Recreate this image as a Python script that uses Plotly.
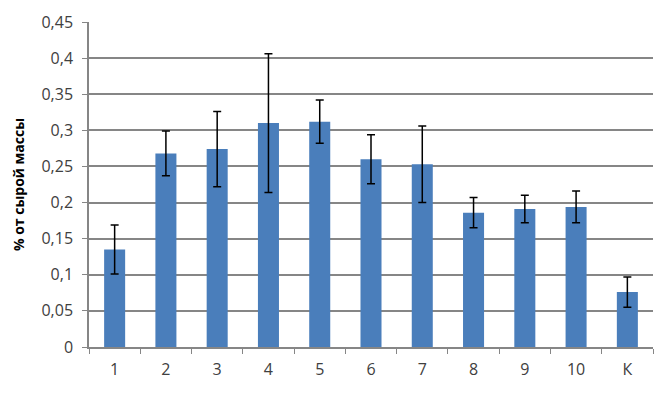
import plotly.graph_objects as go

categories = ["1", "2", "3", "4", "5", "6", "7", "8", "9", "10", "К"]
values = [0.135, 0.268, 0.274, 0.310, 0.312, 0.260, 0.253, 0.186, 0.191, 0.194, 0.076]
errors = [0.034, 0.031, 0.052, 0.096, 0.030, 0.034, 0.053, 0.021, 0.019, 0.022, 0.021]
y_tickvals = [0, 0.05, 0.1, 0.15, 0.2, 0.25, 0.3, 0.35, 0.4, 0.45]
y_ticktext = ["0", "0,05", "0,1", "0,15", "0,2", "0,25", "0,3", "0,35", "0,4", "0,45"]
y_title = "% от сырой массы"

fig = go.Figure(go.Bar(
    x=categories, y=values,
    marker=dict(color="#4A7EBB", line=dict(width=0)),
    error_y=dict(type="data", array=errors, visible=True, color="black",
                 thickness=1.5, width=4),
))

font_family = "Open Sans, Liberation Sans, sans-serif"
fig.update_layout(
    width=667, height=393,
    margin=dict(l=89, r=14, t=22, b=46),
    paper_bgcolor="white", plot_bgcolor="white",
    bargap=0.59, showlegend=False,
    font=dict(family=font_family, color="#404040", size=16),
)
fig.update_xaxes(
    type="category", showline=True, linecolor="#868686", linewidth=1.5,
    ticks="outside", tickson="boundaries", ticklen=5, tickcolor="#868686",
    tickfont=dict(size=16, color="#404040"), showgrid=False,
    automargin=False, ticklabelstandoff=7,
)
fig.update_yaxes(
    range=[0, 0.45], tickvals=y_tickvals, ticktext=y_ticktext,
    showline=True, linecolor="#868686", linewidth=1.5,
    ticks="outside", ticklen=5, tickcolor="#868686",
    showgrid=True, gridcolor="#868686", gridwidth=1.5, zeroline=False,
    tickfont=dict(size=16, color="#404040"), automargin=False, ticklabelstandoff=6,
    title=dict(text=y_title, font=dict(size=14, color="black", family="Open Sans, sans-serif", weight="bold"), standoff=14),
)
fig.write_html("out.html", config={"displayModeBar": False},
               post_script="document.body.style.margin='0';")
